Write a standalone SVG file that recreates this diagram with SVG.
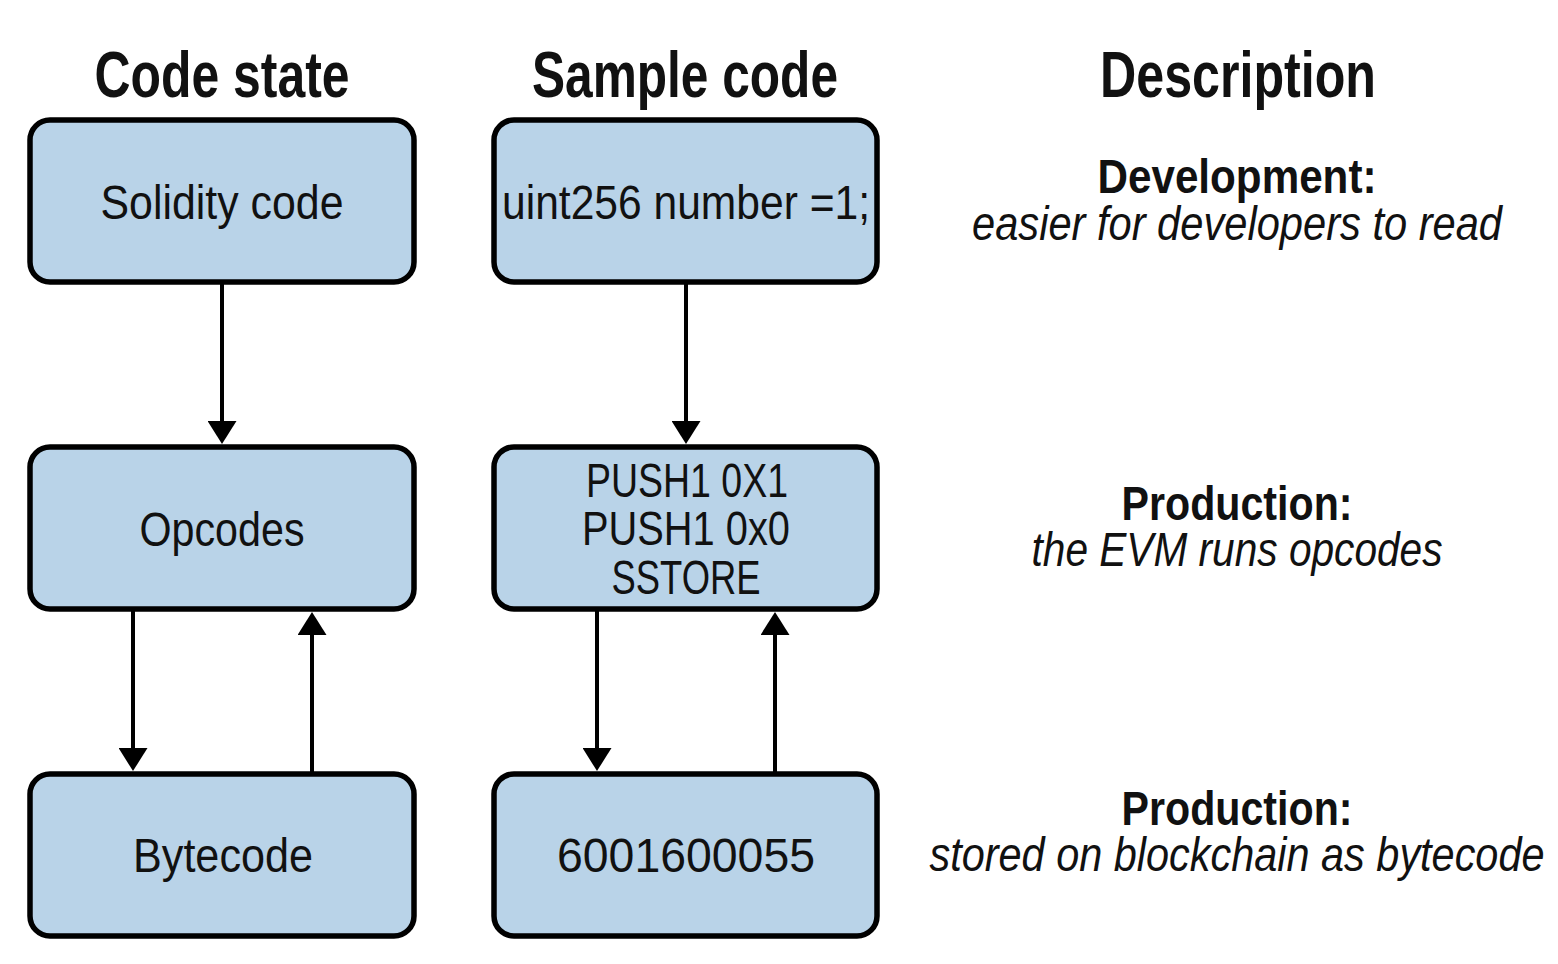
<svg xmlns="http://www.w3.org/2000/svg" width="1558" height="964" viewBox="0 0 1558 964">
<style>
.box{fill:#b9d3e8;stroke:#000;stroke-width:5.5}
.t{font-family:"Liberation Sans Narrow","Liberation Sans",Arial,sans-serif;fill:#111;text-anchor:middle}
.lbl{font-size:48px}
.hd{font-size:64px;font-weight:bold}
.db{font-size:48px;font-weight:bold}
.di{font-size:48px;font-style:italic}
.c{stroke:#000;stroke-width:4;fill:none;marker-end:url(#ah)}
</style>
<defs>
<marker id="ah" viewBox="0 0 23 29" refX="13" refY="14.5" markerWidth="23" markerHeight="29" markerUnits="userSpaceOnUse" orient="auto">
<path d="M0,0 L23,14.5 L0,29 z" fill="#000"/>
</marker>
</defs>
<rect width="1558" height="964" fill="#fff"/>
<g id="headers">
<text class="t hd" x="222" y="97" textLength="255" lengthAdjust="spacingAndGlyphs">Code state</text>
<text class="t hd" x="685" y="97" textLength="306" lengthAdjust="spacingAndGlyphs">Sample code</text>
<text class="t hd" x="1238" y="97" textLength="276" lengthAdjust="spacingAndGlyphs">Description</text>
</g>
<g id="connectors">
<line class="c" x1="222" y1="284" x2="222" y2="434"/>
<line class="c" x1="686" y1="284" x2="686" y2="434"/>
<line class="c" x1="133" y1="611" x2="133" y2="761"/>
<line class="c" x1="312" y1="772" x2="312" y2="622"/>
<line class="c" x1="597" y1="611" x2="597" y2="761"/>
<line class="c" x1="775" y1="772" x2="775" y2="622"/>
</g>
<g id="solidity">
<rect class="box" x="30" y="120" width="384" height="162" rx="20"/>
<text class="t lbl" x="222" y="219" textLength="243" lengthAdjust="spacingAndGlyphs">Solidity code</text>
</g>
<g id="sample-solidity">
<rect class="box" x="494" y="120" width="383" height="162" rx="20"/>
<text class="t lbl" x="686" y="219" textLength="368" lengthAdjust="spacingAndGlyphs">uint256 number =1;</text>
</g>
<g id="opcodes">
<rect class="box" x="30" y="447" width="384" height="162" rx="20"/>
<text class="t lbl" x="222" y="546" textLength="165" lengthAdjust="spacingAndGlyphs">Opcodes</text>
</g>
<g id="sample-opcodes">
<rect class="box" x="494" y="447" width="383" height="162" rx="20"/>
<text class="t lbl" x="687" y="497" textLength="202" lengthAdjust="spacingAndGlyphs">PUSH1 0X1</text>
<text class="t lbl" x="686" y="545" textLength="208" lengthAdjust="spacingAndGlyphs">PUSH1 0x0</text>
<text class="t lbl" x="686" y="594" textLength="149" lengthAdjust="spacingAndGlyphs">SSTORE</text>
</g>
<g id="bytecode">
<rect class="box" x="30" y="774" width="384" height="162" rx="20"/>
<text class="t lbl" x="223" y="872" textLength="180" lengthAdjust="spacingAndGlyphs">Bytecode</text>
</g>
<g id="sample-bytecode">
<rect class="box" x="494" y="774" width="383" height="162" rx="20"/>
<text class="t lbl" x="686" y="872" textLength="258" lengthAdjust="spacingAndGlyphs">6001600055</text>
</g>
<g id="desc-development">
<text class="t db" x="1237" y="193" textLength="279" lengthAdjust="spacingAndGlyphs">Development:</text>
<text class="t di" x="1237" y="240" textLength="530" lengthAdjust="spacingAndGlyphs">easier for developers to read</text>
</g>
<g id="desc-production-1">
<text class="t db" x="1237" y="520" textLength="231" lengthAdjust="spacingAndGlyphs">Production:</text>
<text class="t di" x="1237" y="566" textLength="411" lengthAdjust="spacingAndGlyphs">the EVM runs opcodes</text>
</g>
<g id="desc-production-2">
<text class="t db" x="1237" y="825" textLength="231" lengthAdjust="spacingAndGlyphs">Production:</text>
<text class="t di" x="1237" y="871" textLength="615" lengthAdjust="spacingAndGlyphs">stored on blockchain as bytecode</text>
</g>
</svg>
